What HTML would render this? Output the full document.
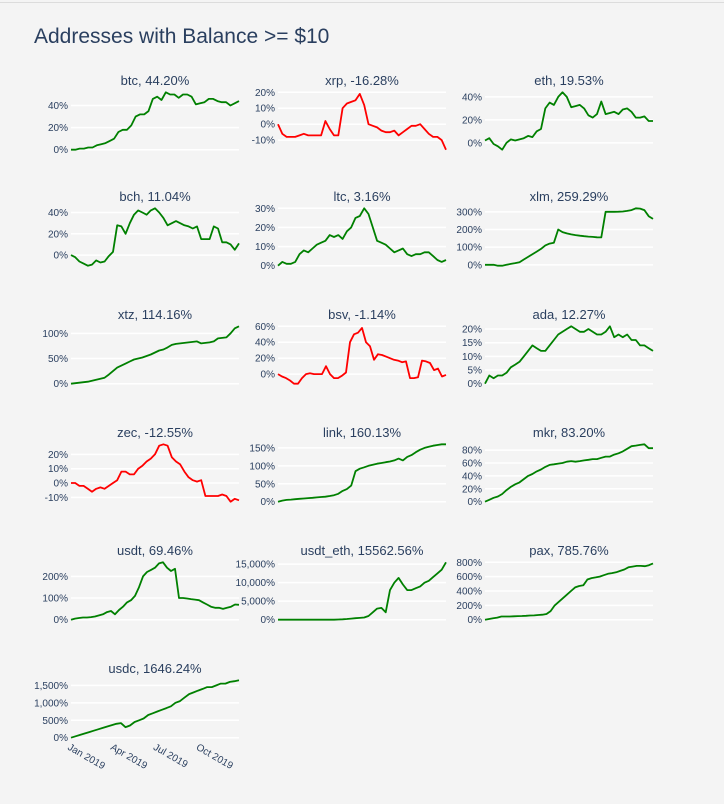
<!DOCTYPE html>
<html><head><meta charset="utf-8">
<style>
html,body{margin:0;padding:0;background:#f4f4f4;}
svg{display:block;font-family:"Liberation Sans",sans-serif;}
</style></head>
<body>
<svg id="c" width="724" height="804" xmlns="http://www.w3.org/2000/svg">
<rect x="0" y="0" width="724" height="804" fill="#f4f4f4"/>
<line x1="0" y1="2.5" x2="724" y2="2.5" stroke="#dcdcdc"/>
<text x="34" y="43" font-size="21" fill="#2a3f5f">Addresses with Balance &gt;= $10</text>
</svg>
<script>
const names = ["btc","xrp","eth","bch","ltc","xlm","xtz","bsv","ada","zec","link","mkr","usdt","usdt_eth","pax","usdc"];
const changes = ["44.20%","-16.28%","19.53%","11.04%","3.16%","259.29%","114.16%","-1.14%","12.27%","-12.55%","160.13%","83.20%","69.46%","15562.56%","785.76%","1646.24%"];
const btc = [0,0,1,1,2,2,4,5,6,8,10,16,18,18,22,30,32,32,35,46,48,45,52,50,50,47,50,50,48,41,42,43,46,46,44,43,43,40,42,44];
const xrp = [0,-6,-8,-8,-8,-7,-6,-7,-7,-7,-7,2,-3,-7,-7,10,13,14,15,19,12,0,-1,-2,-4,-5,-5,-4,-7,-5,-3,-1,-1,0,-3,-6,-8,-8,-10,-16];
const eth = [2,4,-1,-3,-6,0,3,2,3,4,6,5,10,12,30,35,33,40,44,40,31,32,33,30,24,22,25,36,25,26,27,25,29,30,27,22,22,23,19,19];
const bch = [0,-2,-6,-8,-10,-9,-5,-7,-6,-1,3,28,27,20,30,38,42,40,38,42,44,40,35,28,30,32,30,28,27,25,27,15,15,15,27,25,12,12,10,5,11];
const ltc = [0,2,1,1,2,6,8,7,9,11,12,13,16,15,16,14,18,20,25,26,30,27,20,13,12,11,9,7,8,9,6,5,6,6,7,7,5,3,2,3];
const xlm = [0,0,0,-5,-5,0,5,10,15,30,45,60,75,90,110,120,125,200,185,178,172,168,165,162,160,158,156,155,300,300,300,301,302,305,310,320,318,310,275,260];
const xtz = [0,1,2,3,4,6,8,10,12,18,25,32,36,40,44,48,50,52,55,58,62,66,68,72,77,79,80,81,82,83,84,80,81,82,84,90,91,92,100,110,114];
const bsv = [0,-3,-5,-8,-12,-12,-5,0,1,0,0,0,10,0,-5,-5,-2,2,40,50,52,58,40,35,18,25,24,22,20,18,17,15,16,-5,-5,-4,17,16,14,5,7,-3,-1];
const ada = [0,3,2,3,3,4,6,7,8,10,12,14,13,12,12,14,16,18,19,20,21,20,19,19,20,19,18,18,19,21,17,18,17,18,16,16,14,14,13,12];
const zec = [0,0,-2,-2,-4,-6,-4,-3,-4,-2,0,2,8,8,6,6,10,12,15,17,20,26,27,26,18,15,13,8,4,2,1,2,-9,-9,-9,-9,-8,-9,-13,-11,-12];
const link = [0,3,5,6,7,8,9,10,11,12,13,14,16,18,22,30,35,45,85,92,96,100,103,106,108,110,112,115,120,115,125,130,138,145,150,153,156,158,160,160];
const mkr = [0,3,6,8,12,18,23,27,30,35,40,43,47,50,54,57,58,59,60,62,63,62,63,64,65,66,66,68,70,70,73,75,78,82,86,87,88,89,83,83];
const usdt = [0,5,8,10,10,12,15,20,25,35,40,25,45,60,80,90,110,150,200,220,230,240,260,265,240,225,235,100,100,98,95,93,90,80,70,60,55,55,50,55,60,70,69];
const usdt_eth = [0,0,0,0,0,0,0,0,0,0,0,0,0,0,50,100,200,300,400,500,600,1000,2000,3000,3200,2000,8000,10000,11300,9500,8000,8000,8500,9000,10000,10500,11500,12500,13500,15500];
const pax = [0,10,20,30,45,45,45,48,50,52,55,58,60,65,70,80,120,200,250,300,350,400,450,470,480,560,580,590,600,620,640,650,660,680,700,730,740,750,750,745,760,785];
const usdc = [0,40,80,120,160,200,240,280,320,360,400,420,300,350,450,500,550,650,700,750,800,850,900,1000,1050,1150,1250,1300,1350,1400,1450,1450,1500,1550,1550,1600,1620,1646];
const series = [btc,xrp,eth,bch,ltc,xlm,xtz,bsv,ada,zec,link,mkr,usdt,usdt_eth,pax,usdc];
const ticks = [[0,20,40],[-10,0,10,20],[0,20,40],[0,20,40],[0,10,20,30],[0,100,200,300],[0,50,100],[0,20,40,60],[0,5,10,15,20],[-10,0,10,20],[0,50,100,150],[0,20,40,60,80],[0,100,200],[0,5000,10000,15000],[0,200,400,600,800],[0,500,1000,1500]];
const xTickLabels = ["Jan 2019","Apr 2019","Jul 2019","Oct 2019"];
const xTickFrac = [0.0,0.25,0.5,0.75];

const svg = document.getElementById('c');
const NS = "http://www.w3.org/2000/svg";
const colX = [71,278,485], plotW = 168;
const rowY = [80,196,314,432,550,668];
function mk(tag, attrs){const e=document.createElementNS(NS,tag);for(const k in attrs)e.setAttribute(k,attrs[k]);return e;}
function fmt(v){return v.toLocaleString('en-US')+'%';}

series.forEach((data,i)=>{
  const c=i%3, r=Math.floor(i/3);
  const x0=colX[c], ty=rowY[r];
  const top=ty+10, bot=ty+72;
  const g=mk('g',{});
  
  
  svg.appendChild(g);
  let mn=Math.min(...data), mx=Math.max(...data);
  ticks[i].forEach(t=>{mn=Math.min(mn,t);mx=Math.max(mx,t);});
  const pad=(mx-mn)*0.04; mn-=pad; mx+=pad;
  const yS=v=>bot-(v-mn)/(mx-mn)*(bot-top);
  const xS=k=>x0+k/(data.length-1)*plotW;
  const title=mk('text',{x:x0+plotW/2,y:ty+5,'font-size':13,fill:'#2a3f5f','text-anchor':'middle'});
  title.textContent=names[i]+', '+changes[i];
  
  
  g.appendChild(title);
  ticks[i].forEach(t=>{
    const y=yS(t);
    const gl=mk('line',{x1:x0,x2:x0+plotW,y1:y,y2:y,stroke:'#ffffff','stroke-width':1.5});
    
    
    g.appendChild(gl);
    const tl=mk('text',{x:x0-3,y:y+3.5,'font-size':10,fill:'#2a3f5f','text-anchor':'end'});
    tl.textContent=fmt(t);
    
    
    g.appendChild(tl);
  });
  const up=data[data.length-1]>=data[0];
  const d=data.map((v,k)=>(k?'L':'M')+xS(k).toFixed(1)+','+yS(v).toFixed(1)).join('');
  const p=mk('path',{d:d,fill:'none',stroke:up?'#008000':'#ff0000','stroke-width':1.8,'stroke-linejoin':'round'});
  
  
  g.appendChild(p);
  if(i===series.length-1){
    xTickLabels.forEach((lab,k)=>{
      const xx=x0+xTickFrac[k]*plotW*1.02, yy=bot+9;
      const t=mk('text',{x:xx-4,y:yy,'font-size':10,fill:'#2a3f5f',transform:'rotate(30 '+(xx-4)+' '+yy+')'});
      t.textContent=lab;
      
      
      g.appendChild(t);
    });
  }
});
</script>
</body></html>
